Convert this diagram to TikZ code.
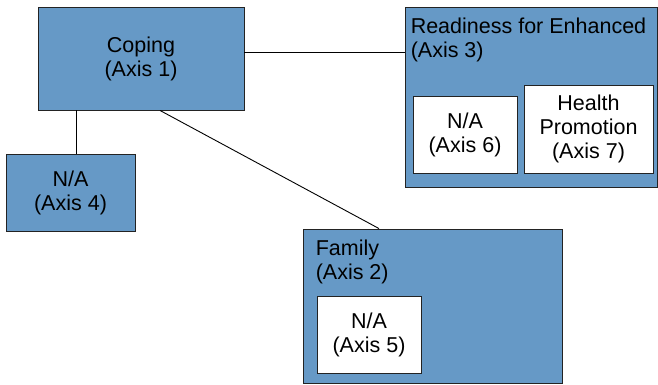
\documentclass[tikz,border=0pt]{standalone}
\usepackage{fontspec}
\setmainfont{Liberation Sans}
\usepackage{tikz}
\usetikzlibrary{positioning}

\definecolor{axisblue}{RGB}{102,153,198}
\definecolor{edgegray}{RGB}{35,35,35}

\tikzset{
  axisbox/.style={rectangle, draw=edgegray, line width=0.9pt, fill=axisblue, align=center, inner sep=0pt},
  innerbox/.style={rectangle, draw=edgegray, line width=0.9pt, fill=white, align=center, inner sep=0pt},
  boxtitle/.style={anchor=north west, align=left, inner sep=0pt},
  link/.style={draw=black, line width=0.9pt}
}

\begin{document}
\begin{tikzpicture}[x=1pt, y=-1pt, font=\fontsize{21.5}{24}\selectfont]
\useasboundingbox (0,0) rectangle (658,384);

\node [style=axisbox, minimum width=206pt, minimum height=103pt] (coping) at (141,58.5) {Coping\\(Axis 1)};
\node [style=axisbox, minimum width=129pt, minimum height=77pt] (na4) at (70.5,192.5) {N/A\\(Axis 4)};

\node [style=axisbox, minimum width=252pt, minimum height=180pt] (ready) at (531,97) {};
\node [style=boxtitle] (readytitle) at ([xshift=6pt, yshift=-11pt]ready.north west) {Readiness for Enhanced\\(Axis 3)};
\node [style=innerbox, minimum width=104pt, minimum height=77pt] (na6) at (465,134.5) {N/A\\(Axis 6)};
\node [style=innerbox, minimum width=129pt, minimum height=88pt] (health) at (588.5,129) {Health\\Promotion\\(Axis 7)};

\node [style=axisbox, minimum width=259pt, minimum height=154pt] (family) at (432.5,306) {};
\node [style=boxtitle] (familytitle) at ([xshift=13pt, yshift=-11pt]family.north west) {Family\\(Axis 2)};
\node [style=innerbox, minimum width=104pt, minimum height=77pt] (na5) at (369,334.5) {N/A\\(Axis 5)};

\draw[link] ([yshift=6.5pt]coping.east) -- ([yshift=6.5pt]coping.east -| ready.west);
\draw[link] ([xshift=5.5pt]na4.north) -- ([xshift=5.5pt]na4.north |- coping.south);
\draw[link] ([xshift=19pt]coping.south) -- ([xshift=-53.5pt]family.north);

\end{tikzpicture}
\end{document}
